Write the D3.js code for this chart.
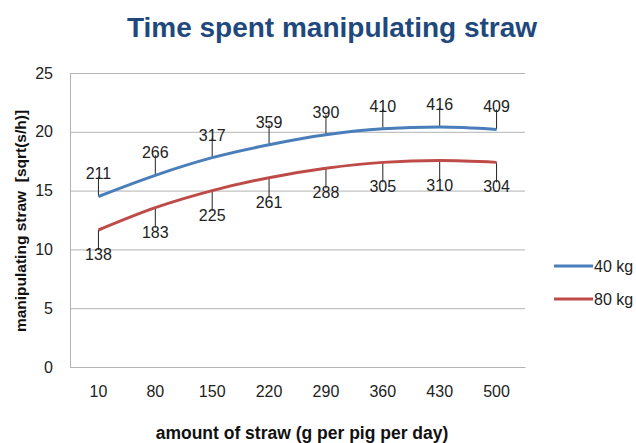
<!DOCTYPE html>
<html>
<head>
<meta charset="utf-8">
<script src="https://cdn.jsdelivr.net/npm/d3@7"></script>
<style>
  body { margin: 0; background: #fff; }
  text { font-family: "Liberation Sans", Arial, sans-serif; }
</style>
</head>
<body>
<div id="chart"></div>
<script>
var svgWidth = 636;
var svgHeight = 443;

// data
var strawAmounts = ["10", "80", "150", "220", "290", "360", "430", "500"];
var kg40Values = [14.5, 16.3, 17.8, 18.9, 19.75, 20.25, 20.4, 20.2];
var kg80Values = [11.65, 13.55, 15.0, 16.1, 16.9, 17.4, 17.55, 17.4];
var kg40Labels = ["211", "266", "317", "359", "390", "410", "416", "409"];
var kg80Labels = ["138", "183", "225", "261", "288", "305", "310", "304"];
var yTicks = [0, 5, 10, 15, 20, 25];
var seriesNames = ["40 kg", "80 kg"];

var margin = { top: 73, right: 111, bottom: 76, left: 70 };
var chartWidth = svgWidth - margin.left - margin.right;
var chartHeight = svgHeight - margin.top - margin.bottom;

var svg = d3.select("#chart").append("svg")
            .attr("width", svgWidth)
            .attr("height", svgHeight);

var chartGroup = svg.append("g")
                    .attr("transform", `translate(${margin.left}, ${margin.top})`);

var xScale = d3.scaleBand()
               .domain(strawAmounts)
               .range([0, chartWidth]);

var yScale = d3.scaleLinear()
               .domain([0, 25])
               .range([chartHeight, 0]);

// gridlines
chartGroup.append("g")
          .call(d3.axisLeft(yScale).tickValues(yTicks).tickSize(-chartWidth).tickFormat(""))
          .call(g => g.select(".domain").remove())
          .call(g => g.selectAll("line").attr("stroke", "#b3b3b3").attr("stroke-width", 1));

// left axis
var leftAxis = d3.axisLeft(yScale).tickValues(yTicks).tickSize(0).tickPadding(17);
chartGroup.append("g")
          .style("font-size", "16px")
          .call(leftAxis)
          .call(g => g.select(".domain").attr("stroke", "#b3b3b3"))
          .call(g => g.selectAll("text").attr("fill", "#222").style("font-family", "Liberation Sans, Arial, sans-serif"));

// bottom axis
var bottomAxis = d3.axisBottom(xScale).tickSize(0).tickPadding(19);
chartGroup.append("g")
          .attr("transform", `translate(0, ${chartHeight})`)
          .style("font-size", "16px")
          .call(bottomAxis)
          .call(g => g.select(".domain").attr("stroke", "#b3b3b3"))
          .call(g => g.selectAll("text").attr("fill", "#222").style("font-family", "Liberation Sans, Arial, sans-serif"));

var cx = d => xScale(d) + xScale.bandwidth() / 2;

var series = [
  { name: seriesNames[0], values: kg40Values, labels: kg40Labels, color: "#4a7ebb", dir: -1 },
  { name: seriesNames[1], values: kg80Values, labels: kg80Labels, color: "#be4b48", dir: 1 }
];

var line = d3.line()
             .x((d, i) => cx(strawAmounts[i]))
             .y(d => yScale(d))
             .curve(d3.curveMonotoneX);

series.forEach(s => {
  // leader lines
  chartGroup.selectAll(null).data(s.values).enter().append("line")
            .attr("x1", (d, i) => cx(strawAmounts[i]))
            .attr("x2", (d, i) => cx(strawAmounts[i]))
            .attr("y1", d => yScale(d))
            .attr("y2", d => yScale(d) + s.dir * 20)
            .attr("stroke", "#222")
            .attr("stroke-width", 1);

  chartGroup.append("path")
            .datum(s.values)
            .attr("d", line)
            .attr("fill", "none")
            .attr("stroke", s.color)
            .attr("stroke-width", 3);

  chartGroup.selectAll(null).data(s.values).enter().append("text")
            .attr("x", (d, i) => cx(strawAmounts[i]))
            .attr("y", d => yScale(d) + (s.dir < 0 ? -17 : 30))
            .attr("text-anchor", "middle")
            .attr("font-size", "16px")
            .attr("fill", "#222")
            .text((d, i) => s.labels[i]);
});

// legend
var legend = svg.append("g");
series.forEach((s, i) => {
  var ly = 266 + i * 33;
  legend.append("line")
        .attr("x1", 554).attr("x2", 593)
        .attr("y1", ly).attr("y2", ly)
        .attr("stroke", s.color)
        .attr("stroke-width", 3);
  legend.append("text")
        .attr("x", 594).attr("y", ly + 6)
        .attr("font-size", "16px")
        .attr("fill", "#222")
        .text(s.name);
});

// titles
svg.append("text")
   .attr("x", 332).attr("y", 37)
   .attr("text-anchor", "middle")
   .attr("font-size", "28px")
   .attr("font-weight", "bold")
   .attr("fill", "#1f497d")
   .text("Time spent manipulating straw");

svg.append("text")
   .attr("x", 302).attr("y", 439)
   .attr("text-anchor", "middle")
   .attr("font-size", "17.5px")
   .attr("font-weight", "bold")
   .attr("fill", "#111")
   .text("amount of straw (g per pig per day)");

svg.append("text")
   .attr("transform", "rotate(-90)")
   .attr("x", -221).attr("y", 26)
   .attr("text-anchor", "middle")
   .attr("font-size", "15.5px")
   .attr("font-weight", "bold")
   .attr("fill", "#111")
   .style("white-space", "pre")
   .text("manipulating straw  [sqrt(s/h)]");
</script>
</body>
</html>
